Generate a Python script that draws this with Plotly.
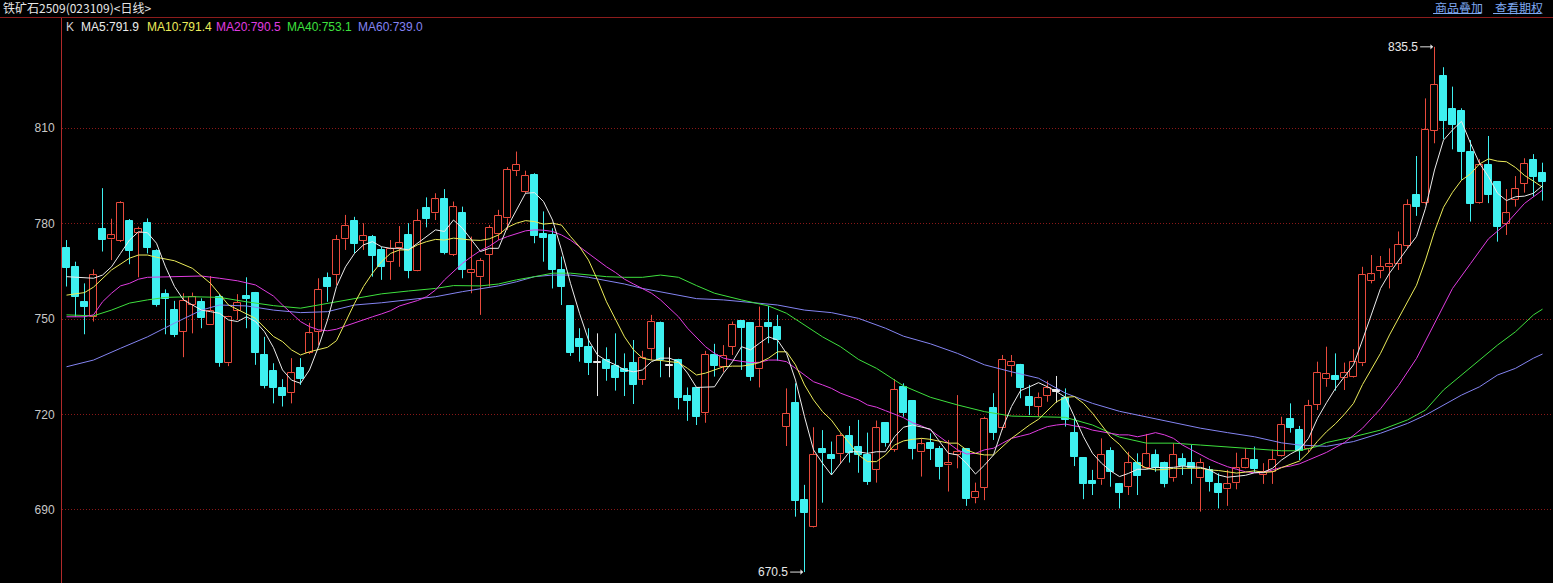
import plotly.graph_objects as go

# ---------------- data ----------------
opens = [772.2, 766.2, 755.3, 750.7, 778.3, 775.0, 774.6, 780.8, 777.1, 780.3,
         771.4, 757.8, 752.8, 746.0, 754.4, 755.2, 748.0, 757.0, 736.1, 752.6,
         757.2, 758.1, 738.7, 733.8, 728.2, 726.7, 734.5, 739.4, 746.0, 762.8,
         763.8, 775.0, 780.8, 774.6, 775.7, 771.7, 768.0, 772.2, 776.4, 765.2,
         784.8, 783.2, 787.6, 770.1, 783.2, 764.6, 763.1, 770.2, 776.6, 781.6,
         796.6, 790.0, 795.2, 776.6, 776.4, 765.4, 754.1, 743.6, 741.1, 736.1,
         737.1, 735.2, 734.3, 736.1, 730.8, 740.5, 748.7, 735.3, 737.1, 725.8,
         728.2, 720.6, 738.7, 735.0, 741.3, 749.4, 748.7, 734.2, 748.7, 747.6,
         716.2, 723.5, 693.1, 684.8, 709.1, 707.3, 707.5, 713.2, 709.9, 707.3,
         702.6, 717.4, 708.9, 728.5, 724.2, 708.1, 711.0, 709.1, 704.0, 707.4,
         709.1, 693.9, 697.0, 722.0, 715.7, 735.2, 735.6, 725.6, 722.5, 725.8,
         727.2, 725.1, 714.1, 706.2, 699.1, 699.6, 708.5, 698.2, 697.3, 704.7,
         703.1, 707.3, 704.9, 700.0, 705.9, 704.9, 700.0, 702.6, 698.2, 696.5,
         698.4, 703.1, 705.7, 701.0, 702.0, 707.0, 718.5, 715.1, 709.1, 723.0,
         731.1, 732.1, 731.4, 731.9, 736.1, 762.0, 765.2, 766.4, 767.3, 772.9,
         789.0, 786.4, 809.2, 826.4, 815.9, 815.4, 802.6, 786.4, 798.4, 792.9,
         779.9, 787.4, 792.4, 799.8, 795.8]
highs = [774.8, 768.0, 761.2, 765.6, 791.1, 781.5, 787.0, 781.4, 779.0, 781.6,
         771.9, 759.3, 755.7, 758.1, 758.3, 756.5, 763.5, 757.8, 751.0, 757.8,
         763.1, 758.5, 744.4, 736.1, 731.1, 737.7, 737.7, 748.8, 762.8, 764.6,
         776.4, 782.7, 782.1, 780.1, 776.4, 772.7, 774.8, 779.2, 780.1, 784.5,
         788.2, 789.5, 790.8, 786.9, 785.3, 775.9, 769.1, 779.5, 784.3, 797.7,
         802.6, 796.6, 795.8, 783.8, 778.5, 769.6, 754.3, 747.1, 747.1, 745.5,
         741.1, 745.5, 739.2, 743.4, 740.0, 751.3, 749.2, 741.1, 737.5, 728.5,
         728.5, 740.0, 742.2, 741.8, 749.2, 749.7, 749.0, 753.9, 754.1, 751.3,
         728.2, 729.8, 697.9, 716.0, 715.1, 711.5, 714.1, 716.4, 718.3, 714.3,
         718.1, 717.6, 731.1, 729.8, 724.5, 712.5, 714.1, 710.1, 712.0, 726.1,
         709.4, 698.6, 719.3, 726.7, 738.7, 738.7, 735.9, 729.3, 726.9, 730.6,
         732.1, 728.2, 719.3, 706.5, 702.6, 712.5, 709.7, 698.5, 708.3, 707.8,
         713.9, 709.0, 705.2, 711.0, 707.8, 710.4, 706.2, 703.8, 701.5, 702.6,
         708.0, 709.4, 709.9, 704.7, 709.0, 719.3, 723.5, 716.4, 724.6, 736.6,
         741.3, 739.2, 736.3, 740.5, 766.4, 770.1, 769.8, 772.2, 777.5, 787.6,
         801.2, 819.3, 835.5, 829.1, 823.0, 816.2, 806.2, 800.2, 807.5, 793.2,
         790.8, 794.9, 800.5, 801.8, 799.1]
lows = [760.2, 750.7, 745.2, 749.2, 771.2, 768.5, 774.2, 767.2, 763.1, 770.6,
        753.9, 745.2, 744.3, 738.0, 745.5, 747.1, 748.0, 735.0, 735.2, 749.7,
        747.1, 735.6, 728.2, 723.5, 722.5, 723.5, 729.3, 739.0, 741.8, 755.4,
        760.7, 771.7, 770.6, 771.7, 763.3, 762.3, 762.3, 766.4, 762.8, 765.0,
        778.8, 781.1, 770.3, 769.8, 762.8, 758.1, 751.3, 760.2, 774.8, 778.0,
        794.9, 789.5, 773.8, 768.0, 759.6, 754.4, 738.4, 736.6, 732.4, 725.8,
        730.6, 727.5, 725.8, 723.3, 729.3, 737.1, 731.7, 731.7, 721.6, 718.0,
        716.7, 717.4, 731.9, 733.4, 738.7, 734.0, 730.6, 728.5, 742.4, 736.9,
        710.1, 687.9, 670.5, 684.5, 692.3, 701.0, 704.7, 704.9, 701.7, 697.9,
        698.6, 709.9, 708.3, 719.3, 705.9, 700.5, 705.7, 699.6, 695.8, 703.1,
        691.3, 692.1, 693.1, 712.0, 715.1, 731.9, 725.1, 719.8, 719.3, 724.0,
        723.7, 716.2, 703.8, 693.4, 694.7, 697.9, 697.3, 690.5, 694.7, 694.7,
        703.0, 702.0, 697.1, 698.9, 701.0, 698.2, 689.5, 695.8, 690.5, 691.3,
        696.5, 703.0, 701.7, 698.2, 698.2, 706.8, 714.3, 705.7, 708.0, 721.4,
        728.7, 727.5, 727.7, 731.6, 735.2, 761.2, 762.8, 759.6, 765.4, 772.2,
        782.4, 786.0, 805.2, 806.5, 803.3, 793.7, 780.6, 786.2, 786.4, 774.3,
        776.4, 785.3, 789.7, 788.4, 787.2]
closes = [766.1, 757.0, 753.7, 763.7, 774.8, 776.3, 786.4, 771.4, 778.2, 772.4,
          754.4, 756.2, 745.0, 755.7, 757.0, 750.2, 752.6, 736.1, 750.6, 755.1,
          756.2, 739.2, 729.0, 728.2, 725.8, 733.0, 731.1, 745.5, 759.1, 760.2,
          774.8, 779.2, 773.6, 776.2, 769.8, 766.4, 771.9, 773.8, 765.2, 780.8,
          781.3, 787.6, 770.6, 785.1, 765.4, 765.4, 768.2, 778.6, 782.4, 796.8,
          798.4, 794.9, 776.1, 775.5, 765.4, 760.2, 739.4, 741.1, 736.1, 736.1,
          734.2, 731.4, 733.4, 729.3, 737.7, 749.2, 737.1, 735.3, 725.1, 724.3,
          719.3, 738.7, 735.2, 738.5, 748.1, 747.1, 731.9, 747.6, 747.6, 743.4,
          720.2, 692.9, 689.0, 707.3, 708.0, 705.9, 713.2, 708.0, 707.3, 698.9,
          715.7, 711.0, 727.7, 720.6, 709.1, 710.6, 709.1, 703.4, 704.7, 708.1,
          693.4, 695.8, 718.6, 714.3, 737.1, 736.6, 728.2, 722.7, 725.1, 728.2,
          727.2, 718.3, 706.6, 698.2, 698.2, 707.3, 702.0, 695.4, 704.7, 700.7,
          707.5, 703.1, 698.2, 707.3, 703.8, 703.1, 704.7, 698.9, 695.4, 698.1,
          703.1, 705.9, 702.8, 702.0, 705.7, 716.7, 715.7, 708.6, 722.7, 733.0,
          732.6, 730.8, 733.0, 736.6, 763.8, 764.0, 766.4, 767.2, 773.3, 785.8,
          785.1, 809.4, 823.5, 812.1, 811.0, 802.6, 786.2, 798.4, 789.0, 778.8,
          783.2, 790.8, 798.7, 794.7, 793.1]
doji_idx = [59, 67, 110]

ma5 = [763.3, 763.1, 762.8, 762.8, 763.8, 766.4, 770.6, 774.8, 777.4, 777.1,
       773.8, 766.4, 760.2, 756.0, 754.4, 752.8, 752.3, 751.8, 749.7, 749.2,
       750.7, 749.2, 746.0, 741.0, 734.0, 730.8, 729.8, 734.0, 741.3, 749.7,
       760.2, 766.4, 770.6, 773.3, 774.3, 772.7, 772.2, 772.2, 771.7, 773.8,
       775.9, 778.0, 777.5, 781.1, 778.5, 774.8, 771.2, 772.2, 772.2, 779.0,
       784.3, 789.5, 789.7, 786.9, 781.1, 771.7, 761.2, 751.8, 743.4, 738.7,
       736.9, 735.6, 734.0, 733.4, 734.0, 736.6, 737.7, 737.7, 736.6, 733.0,
       728.5, 728.5, 728.7, 733.0, 736.6, 741.3, 740.3, 742.4, 744.4, 743.4,
       739.2, 730.8, 719.3, 708.9, 704.7, 701.0, 704.7, 708.3, 708.3, 707.8,
       708.3, 708.3, 713.0, 716.0, 716.7, 716.0, 715.4, 711.5, 707.8, 707.3,
       704.7, 701.3, 704.1, 707.3, 715.7, 722.5, 727.5, 728.7, 730.0, 728.7,
       727.2, 725.4, 719.3, 713.0, 707.8, 704.7, 702.3, 700.5, 701.5, 702.8,
       702.8, 703.4, 703.3, 703.4, 703.8, 703.6, 703.4, 702.6, 701.0, 700.3,
       700.5, 700.9, 701.7, 701.9, 703.1, 705.7, 707.6, 709.1, 712.5, 718.8,
       723.7, 728.2, 731.9, 735.6, 743.4, 751.8, 759.6, 764.4, 768.5, 772.2,
       775.9, 784.8, 796.8, 806.2, 809.4, 812.1, 805.2, 798.9, 794.7, 789.5,
       787.2, 788.4, 788.6, 789.5, 791.9]

ma10_idx = [0, 2, 3, 5, 7, 8, 9, 10, 12, 14, 16, 18, 20, 21, 23, 24, 25, 26, 27, 28,
            29, 30, 31, 32, 33, 34, 35, 36, 37, 38, 39, 40, 41, 42, 43, 44, 45, 46, 47, 48,
            49, 50, 51, 52, 53, 54, 55, 56, 57, 58, 59, 60, 61, 62, 63, 64, 65, 66, 67, 68,
            69, 70, 71, 72, 73, 74, 75, 76, 77, 78, 79, 80, 81, 82, 83, 84, 85, 86, 87, 88,
            89, 90, 91, 92, 93, 94, 95, 96, 97, 98, 99, 100, 101, 102, 103, 104, 105, 106, 107, 108,
            109, 110, 111, 112, 113, 114, 115, 116, 117, 118, 119, 120, 121, 122, 123, 124, 125, 126, 127, 128,
            129, 130, 131, 132, 133, 134, 135, 136, 137, 138, 139, 140, 141, 142, 143, 144, 145, 146, 147, 148,
            149, 150, 151, 152, 153, 154, 155, 156, 157, 158, 159, 160, 161, 162, 163, 164]
ma10 = [757.5, 758.3, 760.0, 765.4, 769.1, 770.1, 770.1, 769.4, 768.3, 765.9, 761.2, 754.4, 751.6, 750.2, 744.5, 742.9, 740.3, 738.7, 739.7, 740.5,
        741.1, 743.2, 749.2, 754.9, 760.2, 764.4, 768.0, 770.6, 771.7, 771.7, 773.3, 774.3, 775.0, 774.8, 775.4, 775.0, 774.8, 774.7, 775.2, 776.4,
        778.8, 780.1, 780.9, 780.6, 779.8, 780.1, 779.5, 775.9, 772.7, 768.5, 762.3, 755.4, 749.7, 744.4, 740.3, 737.7, 737.1, 737.0, 736.6, 736.3,
        734.5, 732.4, 733.0, 734.0, 735.0, 735.2, 735.2, 735.6, 736.3, 737.7, 739.7, 739.7, 735.6, 729.3, 724.6, 720.9, 718.2, 714.3, 711.0, 707.3,
        705.2, 705.2, 707.3, 710.4, 711.7, 712.2, 712.5, 712.2, 711.5, 711.0, 711.0, 708.9, 707.8, 707.3, 707.3, 709.9, 712.5, 714.6, 716.7, 718.5,
        721.4, 724.0, 725.4, 725.6, 723.5, 720.4, 716.7, 713.0, 710.6, 707.3, 704.7, 703.1, 702.6, 702.7, 703.1, 703.2, 703.1, 703.1, 702.6, 702.4,
        702.0, 701.6, 701.9, 702.3, 701.8, 702.0, 703.3, 704.4, 705.4, 708.1, 711.6, 714.6, 717.1, 720.1, 723.5, 729.4, 734.1, 739.2, 745.0, 750.1,
        755.4, 760.6, 768.5, 777.5, 785.1, 789.8, 793.6, 795.6, 798.7, 800.3, 799.6, 799.4, 797.6, 795.1, 793.3, 791.4]

ma20_idx = [0, 2, 3, 4, 5, 6, 7, 8, 9, 11, 13, 15, 17, 19, 21, 23, 24, 25, 26, 27,
            28, 29, 30, 31, 32, 33, 34, 35, 36, 37, 38, 39, 40, 41, 42, 43, 44, 45, 46, 47,
            48, 49, 50, 51, 52, 53, 54, 55, 56, 57, 58, 59, 60, 61, 62, 63, 64, 65, 66, 67,
            68, 69, 70, 71, 72, 73, 74, 75, 76, 77, 78, 79, 80, 81, 82, 83, 84, 85, 86, 87,
            88, 89, 90, 91, 92, 93, 94, 95, 96, 97, 98, 99, 100, 101, 102, 103, 104, 105, 106, 107,
            108, 109, 110, 111, 112, 113, 114, 115, 116, 117, 118, 119, 120, 121, 122, 123, 124, 125, 126, 127,
            128, 129, 130, 131, 132, 133, 134, 135, 136, 137, 138, 139, 140, 142, 144, 146, 148, 150, 152, 154,
            156, 158, 160, 162, 164]
ma20 = [750.7, 750.7, 751.3, 755.4, 758.1, 760.4, 761.2, 762.5, 763.1, 763.3, 763.5, 763.5, 762.8, 762.0, 760.7, 757.2, 754.4, 751.8, 749.2, 747.6,
        746.6, 746.3, 746.8, 747.8, 748.8, 749.9, 750.7, 751.6, 752.6, 754.1, 754.9, 755.8, 757.0, 759.1, 762.3, 764.9, 767.5, 769.6, 771.5, 772.9,
        774.8, 775.9, 776.9, 777.7, 778.0, 777.9, 777.5, 776.4, 774.8, 772.7, 770.4, 768.5, 766.4, 764.6, 762.5, 761.0, 759.6, 758.1, 756.0, 753.4,
        750.7, 747.1, 744.2, 741.3, 739.2, 737.7, 737.1, 736.6, 736.3, 736.4, 737.1, 737.1, 736.6, 734.5, 732.4, 730.3, 729.3, 728.2, 726.7, 725.6,
        724.6, 723.0, 722.3, 721.2, 720.2, 719.0, 717.4, 716.4, 715.1, 713.0, 711.0, 708.9, 707.6, 707.8, 708.9, 709.4, 711.0, 712.5, 713.2, 713.9,
        715.1, 716.2, 716.7, 717.0, 716.4, 716.0, 715.1, 714.6, 714.1, 713.6, 713.6, 713.0, 713.6, 714.3, 713.6, 712.5, 710.4, 708.9, 707.3, 705.9,
        704.7, 703.6, 702.8, 702.0, 701.7, 701.7, 702.6, 703.4, 703.8, 704.5, 705.7, 707.0, 708.1, 711.2, 715.7, 721.8, 729.1, 737.6, 748.8, 759.6,
        767.4, 775.2, 780.0, 786.3, 790.5]

ma40_idx = [0, 3, 5, 7, 9, 11, 14, 17, 20, 23, 26, 29, 32, 35, 38, 41, 43, 46, 48, 50,
            52, 54, 56, 58, 60, 62, 64, 66, 68, 70, 72, 75, 78, 80, 82, 84, 86, 88, 90, 92,
            93, 96, 99, 102, 105, 108, 111, 114, 117, 120, 123, 126, 129, 132, 135, 137, 139, 140, 143, 146,
            149, 151, 153, 155, 157, 159, 161, 163, 164]
ma40 = [751.3, 751.0, 752.8, 755.0, 756.0, 756.8, 757.0, 756.8, 755.4, 754.2, 753.4, 754.9, 756.5, 757.9, 758.8, 759.6, 760.5, 760.4, 761.0, 762.3,
        763.3, 764.4, 764.4, 763.8, 763.3, 763.1, 763.1, 763.8, 763.1, 760.5, 758.1, 756.0, 754.1, 751.8, 748.1, 744.4, 741.3, 737.3, 734.5, 730.8,
        729.0, 725.4, 723.0, 720.9, 719.5, 719.3, 719.1, 716.7, 712.9, 711.0, 711.0, 710.4, 709.7, 709.2, 708.6, 708.6, 710.0, 711.2, 713.0, 715.1,
        718.3, 721.4, 727.7, 732.4, 737.1, 741.8, 746.0, 751.3, 753.1]

ma60_idx = [0, 3, 6, 9, 12, 15, 17, 20, 23, 26, 29, 32, 35, 38, 41, 44, 46, 48, 50, 52,
            54, 56, 58, 60, 62, 64, 66, 68, 70, 73, 76, 79, 82, 85, 88, 91, 93, 96, 99, 102,
            105, 108, 111, 114, 117, 120, 123, 126, 129, 132, 135, 137, 140, 143, 146, 149, 151, 153, 155, 157,
            159, 161, 163, 164]
ma60 = [735.0, 737.1, 740.8, 744.4, 748.7, 752.8, 754.4, 754.1, 752.8, 752.0, 752.3, 754.4, 755.1, 756.0, 757.0, 758.6, 759.4, 760.4, 761.7, 763.3,
        763.8, 763.8, 763.1, 762.0, 761.0, 759.6, 758.6, 757.5, 756.4, 756.0, 755.1, 754.4, 752.8, 752.0, 750.2, 747.1, 744.6, 742.2, 739.2, 735.6,
        733.4, 731.4, 726.7, 723.5, 721.0, 719.3, 717.4, 715.7, 714.3, 713.0, 711.1, 710.4, 710.0, 711.5, 714.1, 717.2, 719.8, 723.0, 726.1, 728.7,
        732.4, 734.5, 737.7, 739.0]

y_ticks = [690, 720, 750, 780, 810]
title_text = "铁矿石2509(023109)<日线>"
link_texts = ["商品叠加", "查看期权"]
high_mark = (152, 835.5)
low_mark = (82, 670.5)

# ---------------- styling ----------------
W, H = 1553, 583
ML, MT = 62, 18
PW, PH = W - ML, H - MT
RED = "#e84a3c"
CYAN = "#3ef0f0"
WHITE = "#e8e8e8"
C_MA5 = "#ececec"
C_MA10 = "#ecec5a"
C_MA20 = "#e03ce0"
C_MA40 = "#3ee03e"
C_MA60 = "#8484f2"
FONT = "Liberation Sans, Arial, sans-serif"
CJK = "Noto Sans CJK SC, sans-serif"
BW = 0.74


def px_x(px):
    return (px - ML) / PW


def px_y(py):
    return (H - py) / PH


n = len(closes)
up = [i for i in range(n) if i not in doji_idx and closes[i] > opens[i]]
dn = [i for i in range(n) if i not in doji_idx and closes[i] <= opens[i]]

fig = go.Figure()


def wick_trace(ids, color, split):
    xs, ys = [], []
    for i in ids:
        top = max(opens[i], closes[i])
        bot = min(opens[i], closes[i])
        if split:
            xs += [i, i, None, i, i, None]
            ys += [highs[i], top, None, bot, lows[i], None]
        else:
            xs += [i, i, None]
            ys += [highs[i], lows[i], None]
    return go.Scatter(x=xs, y=ys, mode="lines", line=dict(color=color, width=1),
                      hoverinfo="skip", showlegend=False)


# candle bodies
fig.add_trace(go.Bar(x=up, base=[opens[i] for i in up],
                     y=[closes[i] - opens[i] for i in up], width=BW,
                     marker=dict(color="black", line=dict(color=RED, width=1)),
                     showlegend=False, hoverinfo="skip"))
fig.add_trace(go.Bar(x=dn, base=[closes[i] for i in dn],
                     y=[max(opens[i] - closes[i], 0.35) for i in dn], width=BW,
                     marker=dict(color=CYAN, line=dict(color=CYAN, width=1)),
                     showlegend=False, hoverinfo="skip"))
fig.add_trace(go.Bar(x=doji_idx, base=[opens[i] for i in doji_idx],
                     y=[0.35 for _ in doji_idx], width=BW,
                     marker=dict(color=WHITE, line=dict(color=WHITE, width=1)),
                     showlegend=False, hoverinfo="skip"))

# wicks
fig.add_trace(wick_trace(up, RED, True))
fig.add_trace(wick_trace(dn, CYAN, False))
fig.add_trace(wick_trace(doji_idx, WHITE, False))

# moving averages
for xs, ys, col in [(ma60_idx, ma60, C_MA60), (ma40_idx, ma40, C_MA40),
                    (ma20_idx, ma20, C_MA20), (ma10_idx, ma10, C_MA10),
                    (list(range(n)), ma5, C_MA5)]:
    fig.add_trace(go.Scatter(x=xs, y=ys, mode="lines",
                             line=dict(color=col, width=1),
                             hoverinfo="skip", showlegend=False))

annotations = []
annotations.append(dict(xref="paper", yref="paper", x=px_x(1), y=px_y(8),
                        text=title_text, showarrow=False, xanchor="left", yanchor="middle",
                        font=dict(family=CJK, size=12, color="#e6e6e6")))
for txt, x0 in zip(link_texts, [1433, 1493]):
    annotations.append(dict(xref="paper", yref="paper", x=px_x(x0), y=px_y(7),
                            text=txt, showarrow=False, xanchor="left", yanchor="middle",
                            font=dict(family=CJK, size=12, color="#7ea8f0")))
legend_items = [("K", "#d0d0d0", 64),
                (f"MA5:{ma5[-1]:.1f}", C_MA5, 79),
                (f"MA10:{ma10[-1]:.1f}", C_MA10, 145),
                (f"MA20:{ma20[-1]:.1f}", C_MA20, 214),
                (f"MA40:{ma40[-1]:.1f}", C_MA40, 285),
                (f"MA60:{ma60[-1]:.1f}", C_MA60, 356)]
for txt, col, x0 in legend_items:
    annotations.append(dict(xref="paper", yref="paper", x=px_x(x0), y=px_y(27),
                            text=txt, showarrow=False, xanchor="left", yanchor="middle",
                            font=dict(family=FONT, size=12, color=col)))
# extreme price marks with arrows pointing at the wick tip
for (xi, val) in [high_mark, low_mark]:
    annotations.append(dict(xref="x", yref="y", x=xi - 0.15, y=val,
                            text=f"{val:.1f}", showarrow=True,
                            ax=-13, ay=0, axref="pixel", ayref="pixel",
                            arrowhead=1, arrowsize=0.9, arrowwidth=1,
                            arrowcolor="#e0e0e0", standoff=0, startstandoff=0,
                            xanchor="right", yanchor="middle",
                            font=dict(family=FONT, size=12, color="#e8e8e8")))

shapes = [
    dict(type="line", xref="paper", yref="paper", x0=px_x(0), x1=1, y0=px_y(17.5), y1=px_y(17.5),
         line=dict(color="#8c1c1c", width=1)),
    dict(type="line", xref="paper", yref="paper", x0=px_x(1433), x1=px_x(1481),
         y0=px_y(13.5), y1=px_y(13.5), line=dict(color="#7ea8f0", width=1)),
    dict(type="line", xref="paper", yref="paper", x0=px_x(1493), x1=px_x(1541),
         y0=px_y(13.5), y1=px_y(13.5), line=dict(color="#7ea8f0", width=1)),
]

fig.update_layout(
    width=W, height=H,
    margin=dict(l=ML, r=0, t=MT, b=0, pad=0),
    paper_bgcolor="black", plot_bgcolor="black",
    barmode="overlay", bargap=0,
    showlegend=False,
    annotations=annotations, shapes=shapes,
    xaxis=dict(range=[-0.5, (PW / 9.0) - 0.5], visible=False, fixedrange=True),
    yaxis=dict(range=[690 - (H - 510) / 3.183, 810 + (128 - MT) / 3.183],
               tickvals=y_ticks, ticktext=[str(v) for v in y_ticks],
               tickfont=dict(family=FONT, size=12, color="#c8c8c8"),
               showgrid=True, gridcolor="#8a1818", griddash="1px,2px", gridwidth=1,
               zeroline=False, showline=True, linecolor="#b02a2a", linewidth=1,
               ticks="", ticklabelstandoff=4, fixedrange=True),
)

fig.write_html("out.html", config={"displayModeBar": False},
               post_script="document.body.style.margin='0';")
